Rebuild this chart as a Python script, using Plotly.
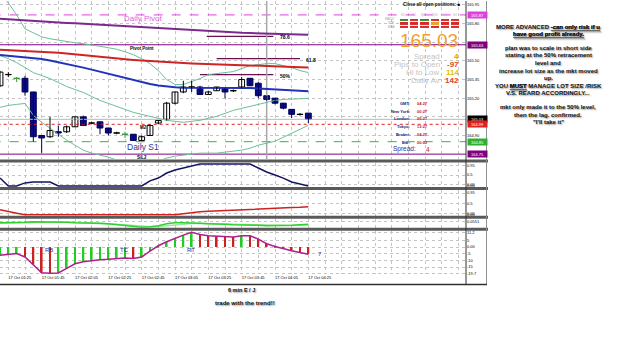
import plotly.graph_objects as go

W, H = 625, 352
def yp(row):
    return 1 - row / H
def xp(col):
    return col / W

FONT = "Liberation Sans, Arial, sans-serif"

# ---------------- data ----------------
bars = list(range(38))
open_ = [165.30,165.39,165.36,165.36,165.25,164.90,164.89,164.93,164.93,164.97,
         165.05,165.00,165.01,164.96,164.92,164.91,164.91,164.86,164.90,165.00,
         165.03,165.16,165.25,165.29,165.29,165.23,165.26,165.28,165.26,165.29,
         165.36,165.32,165.22,165.20,165.16,165.11,165.07,165.08]
high = [165.42,165.41,165.37,165.38,165.25,164.90,165.05,164.98,164.98,165.05,
        165.06,165.01,165.01,164.96,164.93,164.93,164.91,164.90,164.99,165.02,
        165.17,165.25,165.34,165.34,165.30,165.26,165.29,165.28,165.27,165.37,
        165.36,165.33,165.22,165.20,165.16,165.11,165.08,165.08]
low = [165.29,165.37,165.33,165.22,164.85,164.76,164.88,164.89,164.92,164.97,
       164.98,164.99,164.91,164.90,164.91,164.88,164.86,164.86,164.90,164.99,
       165.02,165.15,165.24,165.25,165.23,165.23,165.26,165.20,165.25,165.28,
       165.30,165.20,165.18,165.15,165.11,165.04,165.06,165.00]
close = [165.41,165.39,165.36,165.25,164.89,164.88,164.94,164.92,164.97,165.05,
         164.98,165.00,164.96,164.92,164.92,164.91,164.86,164.89,164.98,165.02,
         165.16,165.25,165.29,165.29,165.23,165.25,165.29,165.25,165.26,165.35,
         165.30,165.22,165.19,165.16,165.12,165.07,165.07,165.03]
green_doji = [2, 15]

ma_purple = [165.840,165.835,165.830,165.826,165.822,165.818,165.814,165.810,165.806,165.802,
             165.798,165.794,165.790,165.786,165.782,165.778,165.774,165.770,165.766,165.762,
             165.758,165.754,165.750,165.746,165.742,165.738,165.735,165.732,165.729,165.726,
             165.724,165.722,165.720,165.718,165.716,165.714,165.712,165.710]
ma_red = [165.590,165.587,165.585,165.583,165.580,165.577,165.572,165.566,165.559,165.552,
          165.546,165.540,165.533,165.526,165.520,165.514,165.508,165.503,165.498,165.494,
          165.490,165.486,165.483,165.480,165.478,165.476,165.474,165.472,165.470,165.469,
          165.467,165.464,165.461,165.458,165.455,165.452,165.449,165.446]
ma_blue = [165.548,165.542,165.536,165.530,165.524,165.515,165.503,165.490,165.476,165.462,
           165.446,165.430,165.413,165.397,165.380,165.365,165.343,165.330,165.315,165.303,
           165.293,165.288,165.285,165.285,165.285,165.285,165.285,165.285,165.285,165.284,
           165.282,165.278,165.274,165.270,165.266,165.262,165.258,165.255]
bb_upper = [166.046,165.966,165.870,165.758,165.726,165.694,165.678,165.666,165.654,165.646,
            165.638,165.630,165.618,165.606,165.594,165.574,165.550,165.518,165.478,165.422,
            165.350,165.310,165.310,165.334,165.358,165.390,165.398,165.402,165.414,165.438,
            165.462,165.470,165.478,165.478,165.462,165.446,165.422,165.406]
bb_mid = [165.542,165.518,165.486,165.446,165.406,165.382,165.358,165.326,165.294,165.270,
          165.246,165.214,165.182,165.158,165.134,165.110,165.086,165.070,165.054,165.038,
          165.022,165.014,165.006,165.014,165.022,165.038,165.054,165.078,165.102,165.118,
          165.134,165.150,165.166,165.182,165.190,165.194,165.198,165.198]
bb_lower = [165.126,165.142,165.150,165.158,165.062,165.006,164.958,164.910,164.862,164.822,
            164.782,164.758,164.742,164.726,164.702,164.686,164.670,164.662,164.670,164.694,
            164.718,164.734,164.742,164.750,164.758,164.758,164.758,164.766,164.774,164.782,
            164.798,164.822,164.838,164.854,164.886,164.918,164.950,164.982]

daily_pivot = 165.87
pivot_point = 165.63
bid = 165.03
red_level = 164.99
daily_s1 = 164.85
s3l2 = 164.75
fib_names = ["78.6", "61.8", "50%"]
fib_levels = [165.698, 165.518, 165.390]
fib_start = [24.8, 26.0, 24.0]
fib_end = [32.8, 36.0, 32.8]
vline_bar = 32

stoch = [0.36,0.0,0.0,0.14,0.18,0.18,0.18,0.0,0.0,0.0,
         0.0,0.0,0.0,0.0,0.0,0.0,0.0,0.0,0.23,0.36,
         0.59,0.73,0.82,0.91,1.0,1.0,1.0,1.0,1.0,1.0,
         1.0,0.82,0.64,0.50,0.36,0.18,0.09,0.0]
red_ind = [0.22,0.13,0.07,0.0,0.0,0.0,0.0,0.0,0.0,0.0,
           0.0,0.0,0.0,0.0,0.0,0.0,0.0,0.0,0.0,0.0,
           0.0,0.0,0.04,0.09,0.13,0.15,0.17,0.19,0.21,0.22,
           0.24,0.25,0.26,0.28,0.30,0.32,0.33,0.35]
green_fast = [0.046,0.046,0.046,0.051,0.055,0.055,0.055,0.055,0.051,0.046,
              0.046,0.046,0.041,0.037,0.028,0.018,0.009,0.005,0.009,0.018,
              0.037,0.046,0.046,0.046,0.041,0.037,0.037,0.032,0.028,0.028,
              0.028,0.023,0.018,0.018,0.018,0.023,0.028,0.032]
green_slow = [0.042,0.042,0.043,0.045,0.048,0.051,0.052,0.052,0.051,0.048,
              0.045,0.043,0.041,0.038,0.034,0.028,0.021,0.014,0.010,0.012,
              0.020,0.030,0.037,0.040,0.040,0.038,0.036,0.034,0.031,0.029,
              0.027,0.025,0.022,0.020,0.019,0.020,0.022,0.025]
hist = [-6.2,-5.5,-4.8,-7.4,-13.0,-19.2,-19.7,-19.4,-16.0,-12.5,
        -11.0,-10.0,-9.5,-9.2,-8.8,-8.2,-8.5,-7.4,-3.0,1.0,
        4.0,6.7,9.0,11.2,9.5,8.5,8.0,7.7,7.5,8.5,
        8.5,6.0,2.5,0.5,-1.2,-2.8,-4.0,-5.4]
hist_dir = "GGGRRRRGGGGGGGGGRGGGGGGGRRRRRGRRRRRRRR"

time_label_bars = [1, 5, 9, 13, 17, 21, 25, 29, 33, 37]
time_labels = ["17 Oct 01:25", "17 Oct 01:45", "17 Oct 02:05", "17 Oct 02:25", "17 Oct 02:45",
               "17 Oct 03:05", "17 Oct 03:25", "17 Oct 03:45", "17 Oct 04:05", "17 Oct 04:25"]
price_ticks = [164.90, 165.05, 165.20, 165.35, 165.50, 165.65, 165.80, 165.95]
covered_ticks = [165.05, 165.65]

signal_rows = ["MACD", "STR", "EMA"]
signal_cols = ["M1", "M5", "M15", "M30", "H1", "H4"]
signals = [[0, 1, 0, 1, 1, 1],
           [1, 1, 1, 2, 1, 1],
           [1, 1, 1, 1, 1, 1]]
big_price = "165.03"
info_names = ["Spread", "Pips to Open", "Hi to Low", "Daily Av"]
info_values = ["4", "-97", "114", "142"]
info_colors = ["#e8a000", "#e04818", "#e0c000", "#e04818"]
clock_names = ["GMT:", "New York:", "London:", "Tokyo:", "Broker:", "Bar:"]
clock_values = ["04:27", "00:27", "05:27", "13:27", "04:27", "00:02"]

notes = ["<b>MORE ADVANCED <u>-can only risk if u</u></b>",
         "<b><u>have good profit already.</u></b>",
         "<b>plan was to scale in short side</b>",
         "<b>stating at the 50% retracement</b>",
         "<b>level and</b>",
         "<b>increase lot size as the mkt moved</b>",
         "<b>up.</b>",
         "<b>YOU <u>MUST</u> MANAGE LOT SIZE /RISK</b>",
         "<b>V.S. REARD ACCORDINGLY...</b>",
         "<b>mkt only made it to the 50% level,</b>",
         "<b>then the lag. confirmed.</b>",
         "<b>\"I'll take it\"</b>"]
note_rows = [26, 33.5, 47, 54.5, 62, 70, 77.5, 85.5, 93, 107, 114.5, 122]

# ---------------- figure ----------------
XMAX = 466 / (25 / 3)
fig = go.Figure()

def line(x, y, color, width=1, dash=None, ax="y"):
    fig.add_trace(go.Scatter(x=x, y=y, mode="lines", yaxis=ax, xaxis="x",
                             line=dict(color=color, width=width, dash=dash), hoverinfo="skip"))

full = [-1, 60]
line(full, [daily_pivot] * 2, "#e040e0", 1, "dash")
line(full, [pivot_point] * 2, "#800080", 1)
line(full, [bid] * 2, "#b8b8b8", 1)
line(full, [red_level] * 2, "#e02020", 1, "dot")
line(full, [daily_s1] * 2, "#40b040", 1, "dash")
line(full, [s3l2] * 2, "#800080", 1)
for lv, s, e in zip(fib_levels, fib_start, fib_end):
    line([s, e], [lv, lv], "#6a1050", 1.2)
line([vline_bar, vline_bar], [164.70, 166.0], "#a8a8a8", 1.5)

for band in (bb_upper, bb_mid, bb_lower):
    line(bars, band, "#6cbf98", 1)
line(bars, ma_purple, "#7a2a8c", 2)
line(bars, ma_red, "#d02424", 2)
line(bars, ma_blue, "#2233bb", 2)

# candles: wicks then bodies
kind = []
for i in bars:
    if i in green_doji:
        kind.append("g")
    elif close[i] > open_[i]:
        kind.append("u")
    elif close[i] < open_[i]:
        kind.append("d")
    else:
        kind.append("n")
wick_col = {"u": "#000000", "n": "#000000", "d": "#000050", "g": "#3a9a3a"}
for k in ("u", "n", "d", "g"):
    xs, ys = [], []
    for i in bars:
        if kind[i] == k:
            xs += [i, i, None]
            ys += [low[i], high[i], None]
    if xs:
        fig.add_trace(go.Scatter(x=xs, y=ys, mode="lines", xaxis="x", yaxis="y",
                                 line=dict(color=wick_col[k], width=1), hoverinfo="skip"))
body_base = [min(open_[i], close[i]) if open_[i] != close[i] else close[i] - 0.0012 for i in bars]
body_h = [abs(close[i] - open_[i]) if open_[i] != close[i] else 0.0024 for i in bars]
fill = {"u": "#ffffff", "n": "#000000", "d": "#0a0a8c", "g": "#3a9a3a"}
edge = {"u": "#000000", "n": "#000000", "d": "#000050", "g": "#3a9a3a"}
fig.add_trace(go.Bar(x=bars, y=body_h, base=body_base, width=0.7, xaxis="x", yaxis="y",
                     marker=dict(color=[fill[k] for k in kind],
                                 line=dict(color=[edge[k] for k in kind], width=1)),
                     hoverinfo="skip"))

# subpanels
line(bars, stoch, "#141460", 1.5, ax="y2")
line(bars, red_ind, "#d02020", 1.5, ax="y3")
line(bars, green_slow, "#9ae89a", 1.5, ax="y4")
line(bars, green_fast, "#30d030", 1.5, ax="y4")
fig.add_trace(go.Bar(x=bars, y=hist, width=0.22, xaxis="x", yaxis="y5",
                     marker=dict(color=["#22cc22" if d == "G" else "#cc2222" for d in hist_dir],
                                 line=dict(width=0)), hoverinfo="skip"))
line(bars, hist, "#b0208a", 1.5, ax="y5")

# signal grid
fig.add_trace(go.Heatmap(z=signals, x=list(range(6)), y=list(range(3)), xaxis="x6", yaxis="y6",
                         zmin=0, zmax=2, showscale=False, xgap=2, ygap=1, hoverinfo="skip",
                         colorscale=[[0, "#2e8b3a"], [0.333, "#2e8b3a"], [0.333, "#d42a2a"],
                                     [0.667, "#d42a2a"], [0.667, "#e8a030"], [1, "#e8a030"]]))

odd = list(range(1, 56, 2))
tick_text = [time_labels[time_label_bars.index(v)] if v in time_label_bars else "" for v in odd]
grid = dict(showgrid=True, gridcolor="#c4c4c4", griddash="dot", gridwidth=1, zeroline=False,
            showline=False, ticks="", tickfont=dict(size=4, family=FONT, color="#000"))

layout = dict(
    width=W, height=H, margin=dict(l=0, r=0, t=0, b=0), paper_bgcolor="white",
    plot_bgcolor="white", showlegend=False, barmode="overlay",
    xaxis=dict(domain=[0, xp(466)], range=[0, XMAX], anchor="y5", tickvals=odd, ticktext=tick_text,
               ticklabelposition="outside right", **grid),
    yaxis=dict(domain=[yp(159), 1], range=[164.71, 165.982], side="right", anchor="x",
               tickvals=price_ticks,
               ticktext=["" if t in covered_ticks else "%.2f" % t for t in price_ticks], **grid),
    yaxis2=dict(domain=[yp(187), yp(163)], range=[-0.045, 1.045], side="right", anchor="x",
                tickvals=[0, 0.05, 0.5, 0.95], ticktext=["0.00", "0.05", "0.5", "0.95"], **grid),
    yaxis3=dict(domain=[yp(216), yp(190)], range=[-0.043, 1.087], side="right", anchor="x",
                tickvals=[0, 0.05, 0.5, 0.95], ticktext=["0.00", "0.05", "0.5", "0.95"], **grid),
    yaxis4=dict(domain=[yp(228), yp(219)], range=[0, 0.083], side="right", anchor="x",
                tickvals=[0.0551], ticktext=["0.0551"], **grid),
    yaxis5=dict(domain=[yp(275), yp(231)], range=[-20.52, 12.31], side="right", anchor="x",
                tickvals=[11.2, 5, 0, -5, -10, -15, -19.7],
                ticktext=["11.2", "5", "0.00", "-5", "-10", "-15", "-19.7"], **grid),
    xaxis6=dict(domain=[xp(399), xp(460)], anchor="y6", visible=False),
    yaxis6=dict(domain=[yp(28), yp(18)], anchor="x6", visible=False, autorange="reversed"),
)
fig.update_layout(**layout)

shapes = []
for row in (161, 188.5, 217.5, 229.5):
    shapes.append(dict(type="line", xref="paper", yref="paper", x0=0, x1=xp(488), y0=yp(row), y1=yp(row),
                       line=dict(color="#5a5a5a", width=3)))
shapes.append(dict(type="line", xref="paper", yref="paper", x0=xp(466), x1=xp(466), y0=yp(285), y1=1,
                   line=dict(color="#303030", width=1)))
shapes.append(dict(type="line", xref="paper", yref="paper", x0=xp(486.5), x1=xp(486.5), y0=yp(285), y1=1,
                   line=dict(color="#909090", width=1)))
shapes.append(dict(type="line", xref="paper", yref="paper", x0=0, x1=xp(487), y0=yp(285), y1=yp(285),
                   line=dict(color="#303030", width=1.5)))
fig.update_layout(shapes=shapes)

ann = []
def text(x, y, t, size, color="#000", xanchor="center", xref="paper", yref="paper", bold=False):
    ann.append(dict(x=x, y=y, xref=xref, yref=yref, text=("<b>%s</b>" % t) if bold else t,
                    showarrow=False, xanchor=xanchor, yanchor="middle",
                    font=dict(size=size, color=color, family=FONT)))

# main panel labels
text(14.6, 165.845, "Daily Pivot", 8, "#e060e0", "left", "x", "y")
text(15.3, 165.598, "Pivot Point", 4.5, "#000", "left", "x", "y", bold=True)
text(16.5, 164.966, "M2", 4.5, "#000", "left", "x", "y", bold=True)
text(15.0, 164.805, "Daily S1", 8.5, "#33339a", "left", "x", "y")
text(16.2, 164.725, "S/L2", 4.5, "#000", "left", "x", "y", bold=True)
for nm, lv, e in zip(fib_names, fib_levels, fib_end):
    text(e + 0.5, lv - 0.008, nm, 5, "#000", "left", "x", "y", bold=True)

# right-axis price boxes
boxes = [(daily_pivot, "#e040e0"), (pivot_point, "#800080"), (bid, "#000000"),
         (red_level, "#e02020"), (daily_s1, "#30b030"), (s3l2, "#800080")]
for lv, col in boxes:
    ann.append(dict(x=xp(467), y=lv, xref="paper", yref="y", text="%.2f" % lv, showarrow=False,
                    xanchor="left", yanchor="middle", bgcolor=col, borderpad=0.5, width=18,
                    font=dict(size=4, color="white", family=FONT)))

# sub-panel labels
text(5.9, -1.9, "RB", 6, "#303090", "center", "x", "y5")
text(14.9, -1.9, "TC", 6, "#303090", "center", "x", "y5")
text(22.9, -1.9, "RT", 6, "#303090", "center", "x", "y5")
text(37.9, -4.9, "7", 6, "#303090", "left", "x", "y5")

# info block
text(xp(463), yp(4), "Close all open positions: \u25a0", 4.5, "#000", "right", bold=True)
for r, nm in zip((18.5, 22.5, 26.5), signal_rows):
    text(xp(397), yp(r), nm, 3, "#a0a0a0", "right")
for c, nm in zip((403.5, 413.5, 424, 434.5, 444.5, 454.5), signal_cols):
    text(xp(c), yp(14), nm, 3, "#b8b8b8", "center")
text(xp(429), yp(40), big_price, 19, "#f0a028", "center")
for r, nm, v, col in zip((55.5, 63.5, 71.5, 79.5), info_names, info_values, info_colors):
    text(xp(442), yp(r), nm, 8, "#c4c4c4", "right")
    text(xp(461), yp(r), v, 8, col, "right", bold=True)
for r, nm, v in zip((103, 111, 118.5, 126.5, 134, 142), clock_names, clock_values):
    text(xp(412), yp(r), nm, 4, "#202070", "right", bold=True)
    text(xp(414.5), yp(r), v, 4, "#c02020", "left", bold=True)
text(xp(418), yp(149), "Spread:", 6.5, "#303090", "right")
text(xp(424), yp(149), info_values[0], 6.5, "#d02020", "left")

# commentary
sh = "1px 1px 1.5px #8a8a8a"
for r, t in zip(note_rows, notes):
    ann.append(dict(x=xp(548), y=yp(r), xref="paper", yref="paper", text=t, showarrow=False,
                    xanchor="center", yanchor="middle",
                    font=dict(size=6, color="#111", family=FONT, shadow=sh)))
ann.append(dict(x=xp(241), y=yp(295.5), xref="paper", yref="paper", text="<b>6 min E / J</b>",
                showarrow=False, font=dict(size=5.5, color="#111", family=FONT, shadow=sh)))
ann.append(dict(x=xp(245), y=yp(309), xref="paper", yref="paper", text="<b>trade with the trend!!</b>",
                showarrow=False, font=dict(size=6, color="#111", family=FONT, shadow=sh)))

fig.update_layout(annotations=ann)
fig.write_html("out.html")
